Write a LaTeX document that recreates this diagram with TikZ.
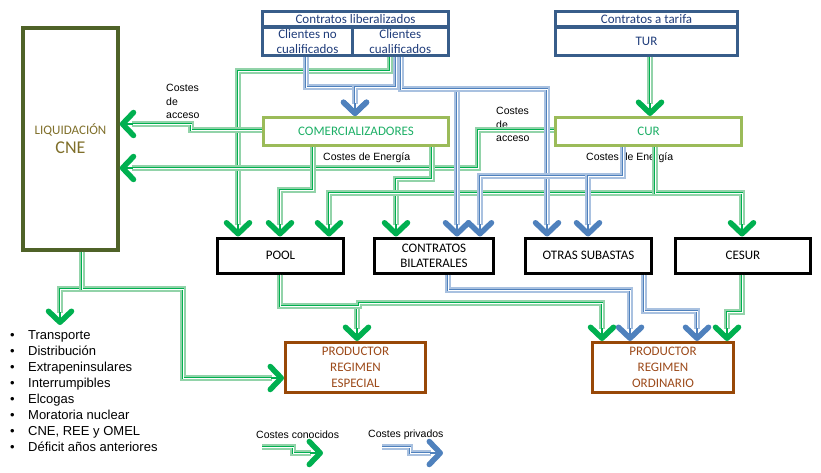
\documentclass[tikz,border=0pt]{standalone}
\usepackage{fontspec}
\setmainfont{Carlito}
\newfontfamily\arialfont{Liberation Sans}
\usetikzlibrary{positioning, arrows.meta}

\definecolor{gk}{HTML}{00B050}
\definecolor{gkl}{HTML}{92D3A9}
\definecolor{bp}{HTML}{4F81BD}
\definecolor{bpl}{HTML}{A9C1E0}
\definecolor{topblue}{HTML}{385D8A}
\definecolor{toptext}{HTML}{1F3C7A}
\definecolor{liqolive}{HTML}{4F6228}
\definecolor{liqtext}{HTML}{7F6F2A}
\definecolor{agentgreen}{HTML}{9BBB59}
\definecolor{agenttext}{HTML}{1DAF66}
\definecolor{prodbrown}{HTML}{984807}
\definecolor{prodtext}{HTML}{9C4A1A}

\begin{document}
\begin{tikzpicture}[x=1pt, y=-1pt, line join=miter]
      \tikzstyle{topcell}=[draw=topblue, line width=3pt, inner sep=0pt, align=center, text=toptext, font=\fontsize{13}{15.5}\selectfont]
      \tikzstyle{liqbox}=[draw=liqolive, line width=3.5pt, inner sep=0pt, align=center, text=liqtext, font=\fontsize{13}{16}\selectfont]
      \tikzstyle{agentbox}=[draw=agentgreen, line width=3pt, inner sep=0pt, minimum height=28pt, text=agenttext, font=\fontsize{13}{16}\selectfont]
      \tikzstyle{marketbox}=[draw=black, line width=3pt, inner sep=0pt, minimum height=35pt, align=center, font=\fontsize{13}{15}\selectfont]
      \tikzstyle{prodbox}=[draw=prodbrown, line width=3pt, inner sep=0pt, minimum height=50pt, align=center, text=prodtext, font=\fontsize{13}{16}\selectfont]
      \tikzstyle{lbl}=[inner sep=0pt, align=left, font=\arialfont\fontsize{10.5}{13.5}\selectfont]
      \tikzstyle{known}=[draw=gk, line width=2pt, -{Straight Barb[length=11pt, width=23pt, line width=5.5pt, round]},
        preaction={draw=gkl, line width=6pt, arrows=-, shorten >=12pt},
        postaction={draw=white, line width=0.6pt, arrows=-, shorten >=13pt}]
      \tikzstyle{private}=[draw=bp, line width=2pt, -{Straight Barb[length=11pt, width=23pt, line width=5.5pt, round]},
        preaction={draw=bpl, line width=6pt, arrows=-, shorten >=12pt},
        postaction={draw=white, line width=0.6pt, arrows=-, shorten >=13pt}]

      \useasboundingbox (0,0) rectangle (821,473);

      % Nodes
      \node[topcell, minimum width=186pt, minimum height=15pt]   (lib)    at (355.5,19.5)  {Contratos liberalizados};
      \node[topcell, minimum width=89.5pt, minimum height=27.5pt] (nocual) at (307.5,41.5) {Clientes no\\cualificados};
      \node[topcell, minimum width=96.5pt, minimum height=27.5pt] (cual)   at (400.25,41.5) {Clientes\\cualificados};
      \node[topcell, minimum width=182pt, minimum height=15pt]   (tarifa) at (646.5,19.5)  {Contratos a tarifa};
      \node[topcell, minimum width=182pt, minimum height=27.5pt] (tur)    at (646.5,41.5) {TUR};

      \node[liqbox, minimum width=95pt, minimum height=222pt] (liq) at (70.5,139) {LIQUIDACIÓN\\[3pt]{\fontsize{18}{20}\selectfont CNE}};

      \node[agentbox, minimum width=185pt] (comer) at (356,131.5)   {COMERCIALIZADORES};
      \node[agentbox, minimum width=186pt] (cur)   at (648.5,131.5) {CUR};

      \node[marketbox, minimum width=126pt] (pool)  at (280.5,255.5) {POOL};
      \node[marketbox, minimum width=119pt] (bil)   at (434,255.5)   {CONTRATOS\\BILATERALES};
      \node[marketbox, minimum width=126pt] (otras) at (588.5,255.5) {OTRAS SUBASTAS};
      \node[marketbox, minimum width=135pt] (cesur) at (743,255.5)   {CESUR};

      \node[prodbox, minimum width=140pt] (esp) at (355.5,367.5) {PRODUCTOR\\REGIMEN\\ESPECIAL};
      \node[prodbox, minimum width=141pt] (ord) at (663,367.5)   {PRODUCTOR\\REGIMEN\\ORDINARIO};

      \node[lbl, font=\arialfont\fontsize{13}{16}\selectfont, anchor=north west] (costs) at (10,330)
        {\makebox[18pt][l]{•}Transporte\\ \makebox[18pt][l]{•}Distribución\\ \makebox[18pt][l]{•}Extrapeninsulares\\
         \makebox[18pt][l]{•}Interrumpibles\\ \makebox[18pt][l]{•}Elcogas\\ \makebox[18pt][l]{•}Moratoria nuclear\\
         \makebox[18pt][l]{•}CNE, REE y OMEL\\ \makebox[18pt][l]{•}Déficit años anteriores};

      % Labels
      \node[lbl, anchor=north west] (acc1) at (166,84)  {Costes\\de\\acceso};
      \node[lbl, anchor=north west] (acc2) at (496,107) {Costes\\de\\acceso};
      \node[lbl, anchor=west]       (ene1) at (323,158) {Costes de Energía};
      \node[lbl, anchor=west]       (ene2) at (586,158) {Costes de Energía};
      \node[lbl, anchor=west]       (leg1) at (256,435) {Costes conocidos};
      \node[lbl, anchor=west]       (leg2) at (368,435) {Costes privados};

      \coordinate (costin) at (60,325);
      \coordinate (k0) at (262,447);
      \coordinate (k1) at (323,453);
      \coordinate (p0) at (382,447);
      \coordinate (p1) at (443,453);

      % Edges
      \draw[known] (cual.south -| 390,0) -- (390,71) -- (238,71) -- (pool.north -| 238,0);
      \draw[known] (comer.west |- 0,130) -- (191,130) -- (191,124) -- (liq.east |- 0,124);
      \draw[known] (cur.west |- 0,130) -- (478,130) -- (478,168) -- (liq.east |- 0,168);
      \draw[known] (comer.south -| 313,0) -- (313,190) -- (280,190) -- (pool.north -| 280,0);
      \draw[known] (comer.south -| 432,0) -- (432,179) -- (396,179) -- (bil.north -| 396,0);
      \draw[known] (cur.south -| 655,0) -- (655,193) -- (329,193) -- (pool.north -| 329,0);
      \draw[known] (cur.south -| 655,0) -- (655,193) -- (742,193) -- (cesur.north -| 742,0);
      \draw[known] (tur.south -| 650,0) -- (cur.north -| 650,0);

      \draw[private] (nocual.south -| 306,0) -- (306,87) -- (355,87) -- (comer.north -| 355,0);
      \draw[private] (cual.south -| 396,0) -- (396,87) -- (355,87) -- (comer.north -| 355,0);
      \draw[private] (cual.south -| 401,0) -- (401,89) -- (457,89) -- (bil.north -| 457,0);
      \draw[private] (cual.south -| 401,0) -- (401,89) -- (547,89) -- (otras.north -| 547,0);
      \draw[private] (cur.south -| 623,0) -- (623,176) -- (480,176) -- (bil.north -| 480,0);
      \draw[private] (cur.south -| 623,0) -- (623,176) -- (588,176) -- (otras.north -| 588,0);

      \draw[known] (liq.south -| 82,0) -- (82,289) -- (60,289) -- (costin);
      \draw[known] (liq.south -| 82,0) -- (82,289) -- (183,289) -- (183,378) -- (esp.west |- 0,378);
      \draw[known] (pool.south -| 280,0) -- (280,306) -- (357,306) -- (esp.north -| 357,0);
      \draw[known] (pool.south -| 280,0) -- (280,306) -- (359,306) -- (359,303) -- (602,303) -- (ord.north -| 602,0);
      \draw[private] (bil.south -| 448,0) -- (448,290) -- (630,290) -- (ord.north -| 630,0);
      \draw[private] (otras.south -| 644,0) -- (644,311) -- (697,311) -- (ord.north -| 697,0);
      \draw[known] (cesur.south -| 742,0) -- (742,312) -- (727,312) -- (ord.north -| 727,0);

      % Legend
      \draw[known] (k0) -- (293,447) -- (293,453) -- (k1);
      \draw[private] (p0) -- (410,447) -- (410,453) -- (p1);
    \end{tikzpicture}
\end{document}
